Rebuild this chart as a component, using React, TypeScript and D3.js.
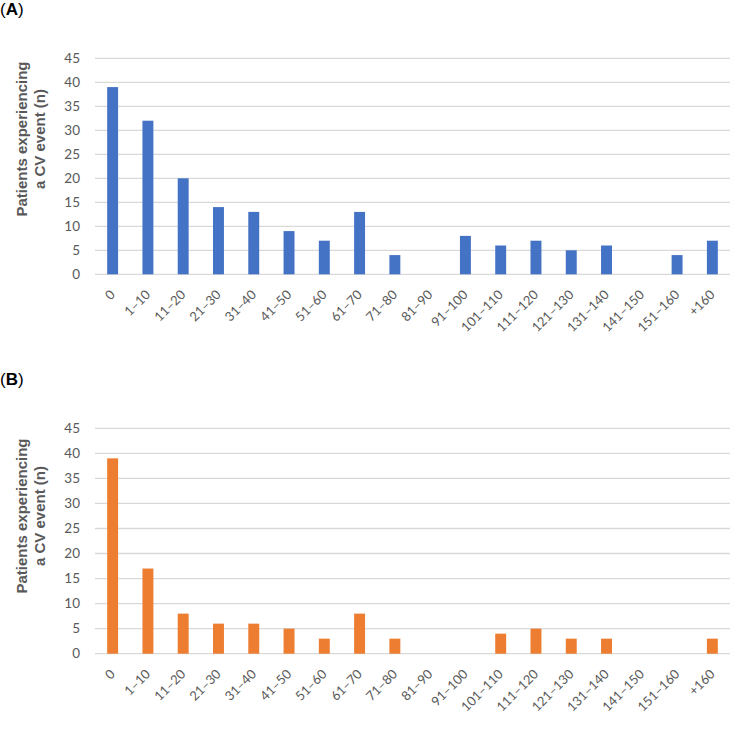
import React from "react";
import * as d3 from "d3";

const categories = ["0", "1–10", "11–20", "21–30", "31–40", "41–50", "51–60", "61–70", "71–80", "81–90", "91–100", "101–110", "111–120", "121–130", "131–140", "141–150", "151–160", "+160"];
const valuesA = [39, 32, 20, 14, 13, 9, 7, 13, 4, 0, 8, 6, 7, 5, 6, 0, 4, 7];
const valuesB = [39, 17, 8, 6, 6, 5, 3, 8, 3, 0, 0, 4, 5, 3, 3, 0, 0, 3];
const yTicks = [0, 5, 10, 15, 20, 25, 30, 35, 40, 45];

const W = 750;
const H = 729;
const left = 95;
const right = 730;
const labelFont = "Lato, 'Liberation Sans', sans-serif";
const titleFont = "'Liberation Sans', Arial, sans-serif";
const grey = "#595959";

type PanelProps = { letter: string; values: number[]; color: string; top: number; bottom: number; letterY: number; titleY: number };

function Panel({ letter, values, color, top, bottom, letterY, titleY }: PanelProps) {
  const x = d3.scaleBand<string>().domain(categories).range([left, right]).paddingInner(0.69).paddingOuter(0.345);
  const y = d3.scaleLinear().domain([0, 45]).range([bottom, top]);
  return (
    <g>
      <text x={0} y={letterY} fontFamily={titleFont} fontSize={17} fill="#000">
        (<tspan fontWeight="bold">{letter}</tspan>)
      </text>
      {yTicks.map((t) => (
        <g key={t}>
          <line x1={left} x2={right} y1={y(t)} y2={y(t)} stroke="#D9D9D9" strokeWidth={1.3} />
          <text x={80} y={y(t)} dy="0.35em" textAnchor="end" fontFamily={labelFont} fontSize={13.5} fill={grey}>
            {t}
          </text>
        </g>
      ))}
      {categories.map((c, i) => (
        <rect key={c} x={x(c)} y={y(values[i])} width={x.bandwidth()} height={y(0) - y(values[i])} fill={color} />
      ))}
      {categories.map((c) => {
        const cx = (x(c) as number) + x.bandwidth() / 2;
        return (
          <text key={c} transform={`translate(${cx},${bottom + 18}) rotate(-45)`} dy="0.35em" textAnchor="end" fontFamily={labelFont} fontSize={13} fill={grey}>
            {c}
          </text>
        );
      })}
      <text transform={`translate(27,${titleY}) rotate(-90)`} textAnchor="middle" fontFamily={titleFont} fontWeight="bold" fontSize={15} fill={grey}>
        Patients experiencing
      </text>
      <text transform={`translate(45,${titleY}) rotate(-90)`} textAnchor="middle" fontFamily={titleFont} fontWeight="bold" fontSize={15} fill={grey}>
        a CV event (n)
      </text>
    </g>
  );
}

export default function App() {
  return (
    <svg width={W} height={H} style={{ position: "absolute", left: 0, top: 0, background: "#fff" }}>
      <rect width={W} height={H} fill="#fff" />
      <Panel letter="A" values={valuesA} color="#4472C4" top={58.3} bottom={274.3} letterY={15} titleY={139} />
      <Panel letter="B" values={valuesB} color="#ED7D31" top={428.3} bottom={653.7} letterY={385} titleY={516} />
    </svg>
  );
}
